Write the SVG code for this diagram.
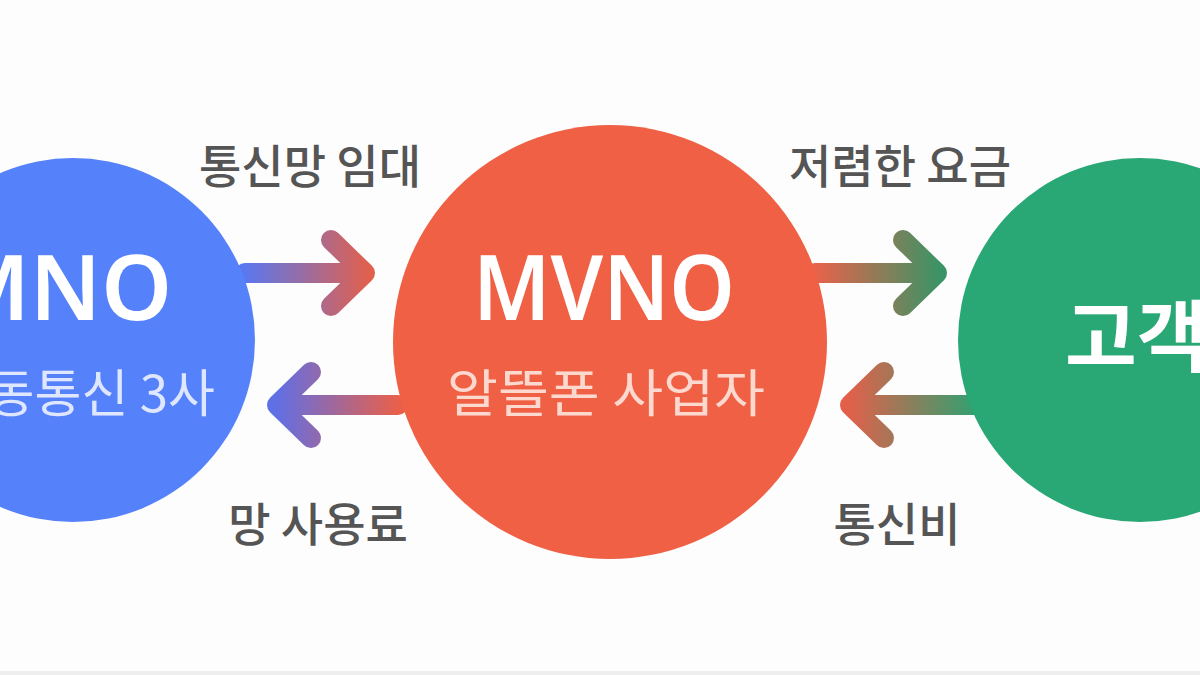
<svg xmlns="http://www.w3.org/2000/svg" width="1200" height="675" viewBox="0 0 1200 675">
  <defs>
    <linearGradient id="gTL" gradientUnits="userSpaceOnUse" x1="245" y1="0" x2="368" y2="0">
      <stop offset="0" stop-color="#5a78ee"/>
      <stop offset="1" stop-color="#e0604e"/>
    </linearGradient>
    <linearGradient id="gBL" gradientUnits="userSpaceOnUse" x1="275" y1="0" x2="398" y2="0">
      <stop offset="0" stop-color="#5f6fe6"/>
      <stop offset="1" stop-color="#e8604a"/>
    </linearGradient>
    <linearGradient id="gTR" gradientUnits="userSpaceOnUse" x1="815" y1="0" x2="940" y2="0">
      <stop offset="0" stop-color="#e8624a"/>
      <stop offset="1" stop-color="#3a9466"/>
    </linearGradient>
    <linearGradient id="gBR" gradientUnits="userSpaceOnUse" x1="848" y1="0" x2="975" y2="0">
      <stop offset="0" stop-color="#e2604a"/>
      <stop offset="1" stop-color="#32a070"/>
    </linearGradient>
    <style>
      .lbl { font-family: "Noto Sans CJK KR", "Noto Sans", sans-serif; font-size: 46px; font-weight: 500; fill: #555555; text-anchor: middle; }
      .title { font-family: "Noto Sans", "Noto Sans CJK KR", sans-serif; font-weight: 600; fill: #ffffff; }
      .sub { font-family: "Noto Sans CJK KR", "Noto Sans", sans-serif; font-size: 51px; }
      .arrow { fill: none; stroke-width: 20; stroke-linecap: round; stroke-linejoin: round; }
    </style>
  </defs>
  <rect x="0" y="0" width="1200" height="675" fill="#fdfdfd"/>
  <rect x="0" y="671" width="1200" height="4" fill="#eeeeee"/>

  <g id="connectors">
    <path class="arrow" stroke="url(#gTL)" d="M245 273 H365 M331 240 L365 273 L331 306"/>
    <path class="arrow" stroke="url(#gBL)" d="M398 405 H277 M311 372 L277 405 L311 438"/>
    <path class="arrow" stroke="url(#gTR)" d="M815 273 H937 M903 240 L937 273 L903 306"/>
    <path class="arrow" stroke="url(#gBR)" d="M975 405 H850 M884 372 L850 405 L884 438"/>
  </g>

  <g id="node-mno">
    <circle cx="73" cy="340" r="182" fill="#5582fa"/>
    <text class="title" x="172" y="320" font-size="90" text-anchor="end">MNO</text>
    <text class="sub" x="215" y="412" text-anchor="end" fill="#dfe6ff">이동통신 3사</text>
  </g>

  <g id="node-mvno">
    <circle cx="610" cy="342" r="217" fill="#ef6045"/>
    <text class="title" x="473" y="320" font-size="90" textLength="262" lengthAdjust="spacingAndGlyphs">MVNO</text>
    <text class="sub" x="447" y="412" textLength="318" lengthAdjust="spacingAndGlyphs" fill="#fcd8cf">알뜰폰 사업자</text>
  </g>

  <g id="node-customer">
    <circle cx="1140" cy="340" r="182" fill="#29a876"/>
    <text x="1065" y="366" font-family="Noto Sans CJK KR, sans-serif" font-weight="700" font-size="78" fill="#ffffff">고객</text>
  </g>

  <g id="labels">
    <text class="lbl" x="310" y="183">통신망 임대</text>
    <text class="lbl" x="318" y="541">망 사용료</text>
    <text class="lbl" x="900" y="183">저렴한 요금</text>
    <text class="lbl" x="897" y="541">통신비</text>
  </g>
</svg>
